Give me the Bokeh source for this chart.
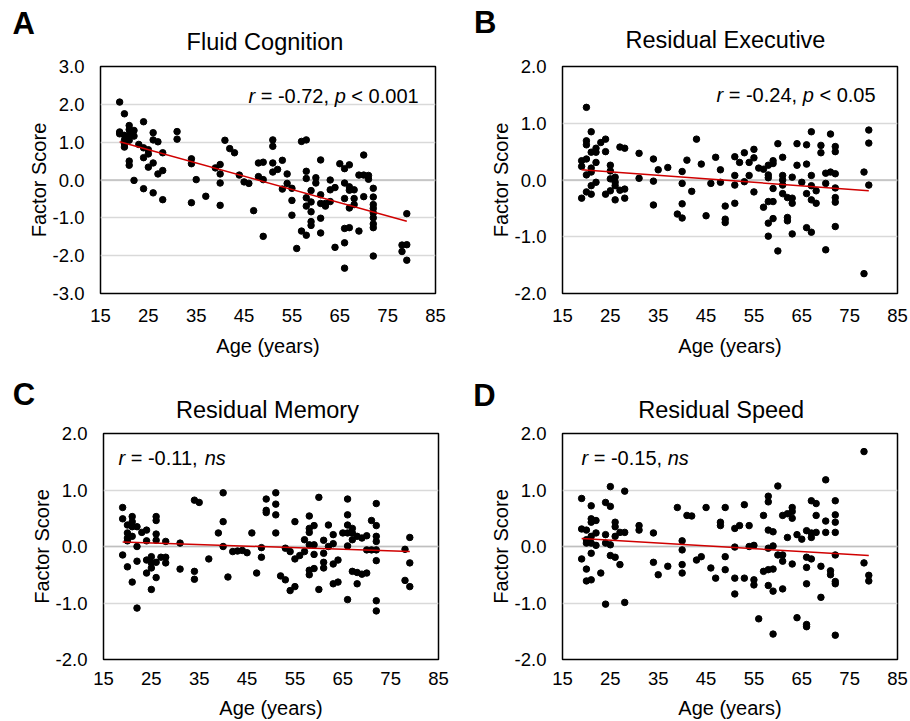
from bokeh.plotting import figure
from bokeh.models import Label, Span, FixedTicker, NumeralTickFormatter, Range1d
from bokeh.layouts import column, row
from bokeh.embed import file_html
from bokeh.resources import INLINE

FONT = "Liberation Sans"

# ---------------- data ----------------
x_ticks = [15, 25, 35, 45, 55, 65, 75, 85]
y_ticks_fluid = [-3, -2, -1, 0, 1, 2, 3]
y_ticks_resid = [-2, -1, 0, 1, 2]

fit_age = [19, 79]

# Panel A: Fluid Cognition
ages_fluid = [19, 19, 19, 20, 20, 20, 20, 20, 21, 21, 21, 21, 21, 21,
              22, 22, 22, 23, 24, 24, 24, 24, 25, 25, 25, 26, 26, 26, 26,
              27, 27, 28, 28, 28, 31, 31, 34, 34, 34, 35, 37, 39,
              40, 40, 40, 40, 41, 42, 43, 44, 45, 46, 47, 48, 48, 49, 49, 49,
              51, 51, 51, 51, 52, 53, 53, 54, 54, 55, 55, 55, 56, 57, 57,
              58, 58, 58, 58, 58, 58, 59, 59, 59, 59, 59, 60, 60,
              61, 61, 61, 61, 61, 62, 62, 63, 63, 63, 64, 64, 65,
              66, 66, 66, 66, 66, 66, 67, 67, 67, 67, 67, 68, 68, 68,
              69, 69, 70, 70, 70, 71, 71,
              72, 72, 72, 72, 72, 72, 72, 72, 72, 78, 78, 79, 79, 79]
fluid = [2.06, 1.27, 1.22, 1.75, 1.18, 1.05, 0.96, 0.87, 1.44, 1.33, 1.18, 1.05, 0.50, 0.39,
         1.31, 1.16, -0.01, 0.94, 1.54, 0.85, 0.59, -0.23, 0.80, 0.69, 0.34, 1.25, 1.06, 0.45, -0.34,
         1.01, 0.16, 0.72, 0.25, -0.52, 1.28, 1.08, 0.56, 0.43, -0.60, 0.01, -0.43, 0.32,
         0.41, 0.16, -0.08, -0.67, 1.05, 0.83, 0.72, 0.13, -0.05, -0.09, -0.81, 0.45, 0.09, 0.47, 0.01, -1.49,
         1.06, 0.89, 0.45, 0.21, 0.28, 0.52, -0.24, 0.16, -0.09, -0.22, -0.54, -0.93, -1.81, 1.02, -1.35,
         1.06, 0.23, 0.04, -0.47, -0.69, -1.46, -0.28, -0.58, -0.84, -1.10, -1.20, 0.06, -0.08,
         0.53, -0.39, -0.62, -1.01, -1.40, -0.62, -0.69, 0.00, -0.26, -0.57, -0.20, -1.78, 0.43,
         0.30, -0.08, -0.49, -1.28, -1.66, -2.33, 0.40, -0.18, -0.27, -0.74, -1.26, -0.26, -0.49, -0.65,
         0.13, -1.35, 0.66, 0.13, -0.44, 0.12, 0.02,
         -0.22, -0.45, -0.65, -0.75, -0.87, -1.00, -1.16, -1.26, -2.01, -1.72, -1.89, -0.89, -1.71, -2.12]
fluid_fit = [1.01, -1.09]

# Panel B: Residual Executive
ages_exec = [19, 19, 19, 20, 20, 20, 20, 20, 20, 21, 21, 21, 21, 21, 21,
             22, 22, 22, 22, 23, 24, 24, 24, 25, 25, 25, 25, 26, 26, 26, 26,
             27, 27, 28, 28, 28, 31, 31, 34, 34, 34, 35, 37, 39,
             40, 40, 40, 40, 41, 42, 43, 44, 45, 46, 47, 48, 48, 49, 49, 49,
             51, 51, 51, 51, 52, 53, 53, 54, 54, 55, 55, 55, 56, 57, 57,
             58, 58, 58, 58, 58, 58, 59, 59, 59, 59, 59, 60, 60,
             61, 61, 61, 61, 61, 62, 62, 62, 63, 63, 63, 63, 64, 64, 65,
             66, 66, 66, 66, 67, 67, 67, 67, 67, 68, 68, 69, 69, 70, 70, 70, 71, 71,
             72, 72, 72, 72, 72, 72, 72, 78, 78, 79, 79, 79]
executive = [0.34, 0.24, -0.32, 1.28, 0.69, 0.62, 0.37, 0.09, -0.21, 0.85, 0.49, 0.21, 0.14, -0.10, -0.25,
             0.56, 0.49, 0.31, -0.04, 0.66, 0.72, 0.50, -0.25, 0.26, 0.16, 0.02, -0.19, 0.05, -0.04, -0.10, -0.35,
             0.58, -0.18, 0.56, -0.16, -0.32, 0.47, 0.03, 0.37, -0.02, -0.44, 0.18, 0.22, -0.60,
             0.15, -0.06, -0.42, -0.67, 0.35, -0.20, 0.72, 0.28, -0.63, -0.06, 0.40, 0.18, -0.04, -0.46, -0.69, -0.75,
             0.41, 0.08, -0.09, -0.41, 0.31, 0.48, -0.03, 0.31, 0.08, 0.54, 0.39, -0.21, 0.21, 0.19, -0.48,
             0.26, 0.09, 0.04, -0.38, -0.76, -0.99, 0.34, 0.29, -0.15, -0.38, -0.68, 0.64, -1.25,
             0.40, 0.08, 0.00, -0.09, -0.24, -0.31, -0.66, -0.72, 0.05, -0.32, -0.41, -0.95, 0.64, 0.26, -0.04,
             0.62, 0.28, -0.24, -0.84, 0.85, 0.08, -0.10, -0.35, -0.92, -0.19, -0.41, 0.61, 0.48, 0.12, -0.06, -1.23, 0.81, 0.14,
             0.59, 0.50, 0.11, -0.14, -0.31, -0.39, -0.82, 0.14, -1.65, 0.88, 0.65, -0.09]
executive_fit = [0.18, -0.19]

# Panel C: Residual Memory
ages_memory = [19, 19, 19, 20, 20, 20, 20, 20, 21, 21, 21, 21, 21,
               22, 22, 22, 22, 23, 24, 24, 24, 24, 25, 25, 25, 25, 26, 26, 26, 26, 26, 26,
               27, 28, 28, 28, 31, 31, 34, 34, 34, 35, 37, 39, 40, 40, 40,
               41, 42, 43, 44, 45, 46, 47, 48, 48, 49, 49, 49,
               51, 51, 51, 51, 52, 53, 53, 54, 54, 55, 55, 55, 56, 57, 57,
               58, 58, 58, 58, 58, 58, 59, 59, 59, 59, 60, 60, 61, 61, 61, 61, 62, 62,
               63, 63, 63, 63, 64, 64, 65, 66, 66, 66, 66, 66, 66, 67, 67, 67, 67,
               68, 68, 68, 69, 69, 70, 70, 70, 71, 71,
               72, 72, 72, 72, 72, 72, 72, 72, 78, 78, 79, 79, 79]
memory = [0.69, 0.49, -0.15, 0.38, 0.24, 0.15, 0.10, -0.36, 0.53, 0.44, 0.35, 0.18, -0.63,
          0.35, 0.00, -0.26, -1.09, 0.25, 0.29, 0.10, -0.24, -0.47, -0.18, -0.29, -0.38, -0.76, 0.53, 0.46, 0.22, 0.11, -0.28, -0.55,
          -0.19, 0.09, -0.19, -0.29, 0.06, -0.40, 0.82, -0.44, -0.58, 0.78, -0.22, 0.24, 0.95, 0.44, 0.00,
          -0.54, -0.09, -0.08, -0.07, -0.11, 0.24, -0.47, -0.02, -0.19, 0.84, 0.64, 0.60,
          0.95, 0.75, 0.56, 0.24, -0.52, -0.03, -0.59, -0.09, -0.78, 0.44, -0.22, -0.71, -0.16, 0.12, -0.09,
          0.54, 0.32, 0.25, 0.03, -0.42, -0.50, 0.37, 0.03, -0.14, -0.39, 0.87, -0.76, 0.11, -0.12, -0.28, -0.38, 0.38, 0.00,
          0.21, 0.05, -0.31, -0.66, -0.24, -0.63, 0.24, 0.84, 0.56, 0.38, 0.24, 0.01, -0.94, 0.32, 0.24, 0.12, -0.44,
          0.18, -0.46, -0.66, 0.15, -0.49, 0.19, -0.06, -0.47, 0.46, -0.06,
          0.76, 0.37, 0.18, 0.09, -0.06, -0.25, -0.96, -1.14, -0.05, -0.60, 0.16, -0.29, -0.71]
memory_fit = [0.08, -0.09]

# Panel D: Residual Speed
ages_speed = [19, 19, 19, 20, 20, 20, 20, 20, 21, 21, 21, 21, 21, 21, 21,
              22, 22, 22, 23, 24, 24, 24, 24, 25, 25, 25, 25, 26, 26, 26, 26,
              27, 27, 28, 28, 28, 31, 31, 34, 34, 35, 37, 39, 40, 40, 40, 40,
              41, 42, 43, 44, 45, 46, 47, 48, 48, 49, 49, 49,
              51, 51, 51, 51, 52, 53, 53, 54, 54, 55, 55, 55, 56, 57, 57,
              58, 58, 58, 58, 58, 58, 59, 59, 59, 59, 59, 60, 60, 61, 61, 61, 61, 62, 62,
              63, 63, 63, 63, 64, 64, 65, 66, 66, 66, 66, 66, 66, 67, 67, 67, 67,
              68, 68, 68, 69, 69, 70, 70, 70, 71, 71,
              72, 72, 72, 72, 72, 72, 72, 72, 78, 78, 79, 79]
speed = [0.85, 0.31, -0.22, 0.29, 0.12, 0.06, -0.40, -0.61, 0.72, 0.49, 0.43, 0.18, 0.06, -0.12, -0.59,
         0.46, 0.24, 0.02, -0.47, 0.78, 0.21, 0.06, -1.02, 1.06, 0.71, 0.03, -0.16, 0.43, 0.35, 0.18, -0.19,
         0.25, -0.32, 0.98, 0.25, -0.99, 0.37, 0.29, 0.24, -0.28, -0.50, -0.35, 0.69, 0.10, -0.06, -0.32, -0.47,
         0.55, 0.54, -0.24, -0.18, 0.69, -0.38, -0.56, 0.43, 0.37, 0.69, -0.18, -0.41,
         0.32, -0.01, -0.56, -0.84, 0.37, 0.74, -0.56, 0.37, 0.00, 0.02, -0.59, -0.68, -1.28, 0.55, -0.44,
         0.89, 0.79, 0.29, -0.03, -0.41, -0.69, 0.26, 0.01, -0.40, -0.79, -1.55, 1.07, -0.15, 0.55, -0.15, -0.26, -0.75, 0.58, 0.16,
         0.69, 0.62, 0.50, -0.31, 0.21, -1.26, 0.13, 0.28, -0.19, -0.37, -0.66, -1.38, -1.42, 0.81, 0.24, 0.16, -0.22,
         0.76, 0.55, 0.25, -0.35, -0.90, 1.18, 0.45, 0.25, -0.43, -0.50,
         0.81, 0.56, 0.43, 0.25, -0.15, -0.62, -0.66, -1.57, 1.68, -0.29, -0.51, -0.61]
speed_fit = [0.14, -0.16]

assert len(ages_fluid) == len(fluid)
assert len(ages_exec) == len(executive)
assert len(ages_memory) == len(memory)
assert len(ages_speed) == len(speed)


def header(w, h, letter, lx, ly, title, tx, ty):
    """Strip above a panel holding the panel letter and the title."""
    hp = figure(width=w, height=h, output_backend="svg", toolbar_location=None,
                x_range=Range1d(0, w), y_range=Range1d(h, 0),
                x_axis_type=None, y_axis_type=None, min_border=0,
                background_fill_color="white", border_fill_color="white")
    hp.outline_line_color = None
    hp.xgrid.visible = False
    hp.ygrid.visible = False
    hp.add_layout(Label(x=lx, y=ly, text=letter, text_font=FONT,
                        text_font_size="31px", text_font_style="bold",
                        text_color="#000000", text_align="left",
                        text_baseline="alphabetic"))
    hp.add_layout(Label(x=tx, y=ty, text=title, text_font=FONT,
                        text_font_size="23.5px", text_font_style="normal",
                        text_color="#000000", text_align="center",
                        text_baseline="alphabetic"))
    return hp


def panel(ages, scores, fit, yticks, ann_parts, ann_xy, geom, std):
    (w, h, bl, br, bt, bb) = geom
    p = figure(width=w, height=h, output_backend="svg", toolbar_location=None,
               x_range=Range1d(x_ticks[0], x_ticks[-1]),
               y_range=Range1d(yticks[0], yticks[-1]),
               min_border_left=bl, min_border_right=br,
               min_border_top=bt, min_border_bottom=bb,
               background_fill_color="white", border_fill_color="white")
    p.outline_line_color = "#000000"
    p.outline_line_width = 1.5
    p.xgrid.grid_line_color = None
    p.ygrid.grid_line_color = "#d9d9d9"
    p.ygrid.grid_line_width = 1.3
    p.xaxis.ticker = FixedTicker(ticks=x_ticks)
    p.yaxis.ticker = FixedTicker(ticks=yticks)
    p.yaxis.formatter = NumeralTickFormatter(format="0.0")
    for ax in (p.xaxis[0], p.yaxis[0]):
        ax.axis_line_color = None
        ax.major_tick_line_color = None
        ax.minor_tick_line_color = None
        ax.major_tick_out = 0
        ax.major_tick_in = 0
        ax.major_label_text_font = FONT
        ax.major_label_text_font_size = "18.5px"
        ax.major_label_text_color = "#000000"
        ax.axis_label_text_font = FONT
        ax.axis_label_text_font_size = "20px"
        ax.axis_label_text_font_style = "normal"
        ax.axis_label_text_color = "#000000"
    p.xaxis.axis_label = "Age (years)"
    p.yaxis.axis_label = "Factor Score"
    p.xaxis.major_label_standoff = std[0]
    p.xaxis.axis_label_standoff = std[1]
    p.yaxis.major_label_standoff = 16
    p.yaxis.axis_label_standoff = 0

    p.add_layout(Span(location=0, dimension="width", line_color="#bfbfbf",
                      line_width=1.5, level="underlay"))

    p.scatter(ages, scores, size=6.5, color="#000000")
    p.line(fit_age, fit, line_color="#d00000", line_width=1.5)

    ax_, ay = ann_xy
    for txt, style, off in ann_parts:
        p.add_layout(Label(x=ax_, y=ay, x_offset=off, text=txt, text_font=FONT,
                           text_font_size="20px", text_font_style=style,
                           text_color="#000000", text_align="left",
                           text_baseline="alphabetic"))
    return p


ann_A = [("r", "italic", 0), ("= -0.72,", "normal", 12.2),
         ("p", "italic", 86.2), ("< 0.001", "normal", 102.9)]
ann_B = [("r", "italic", 0), ("= -0.24,", "normal", 12.2),
         ("p", "italic", 86.2), ("< 0.05", "normal", 102.9)]
ann_C = [("r", "italic", 0), ("= -0.11,", "normal", 12.2),
         ("ns", "italic", 86.2)]
ann_D = [("r", "italic", 0), ("= -0.15,", "normal", 12.2),
         ("ns", "italic", 86.2)]

hA = header(455, 55, "A", 12, 23, "Fluid Cognition", 264.5, 41.3)
hB = header(455, 55, "B", 18.5, 22, "Residual Executive", 270, 39.8)
hC = header(455, 50, "C", 12.3, 20.5, "Residual Memory", 267, 36.5)
hD = header(455, 50, "D", 17.8, 22, "Residual Speed", 265.7, 36.5)

pA = panel(ages_fluid, fluid, fluid_fit, y_ticks_fluid, ann_A, (45.92, 2.233),
           (455, 318, 100, 20, 11, 80), (15, 10))
pB = panel(ages_exec, executive, executive_fit, y_ticks_resid, ann_B, (47.18, 1.489),
           (455, 318, 107, 13, 11, 80), (15, 10))
pC = panel(ages_memory, memory, memory_fit, y_ticks_resid, ann_C, (18.13, 1.559),
           (455, 298, 103, 17, 10, 61), (12, 9))
pD = panel(ages_speed, speed, speed_fit, y_ticks_resid, ann_D, (18.97, 1.559),
           (455, 298, 107, 13, 10, 61), (12, 9))

layout = column(row(hA, hB), row(pA, pB), row(hC, hD), row(pC, pD))

open("out.html", "w").write(file_html(layout, INLINE))
